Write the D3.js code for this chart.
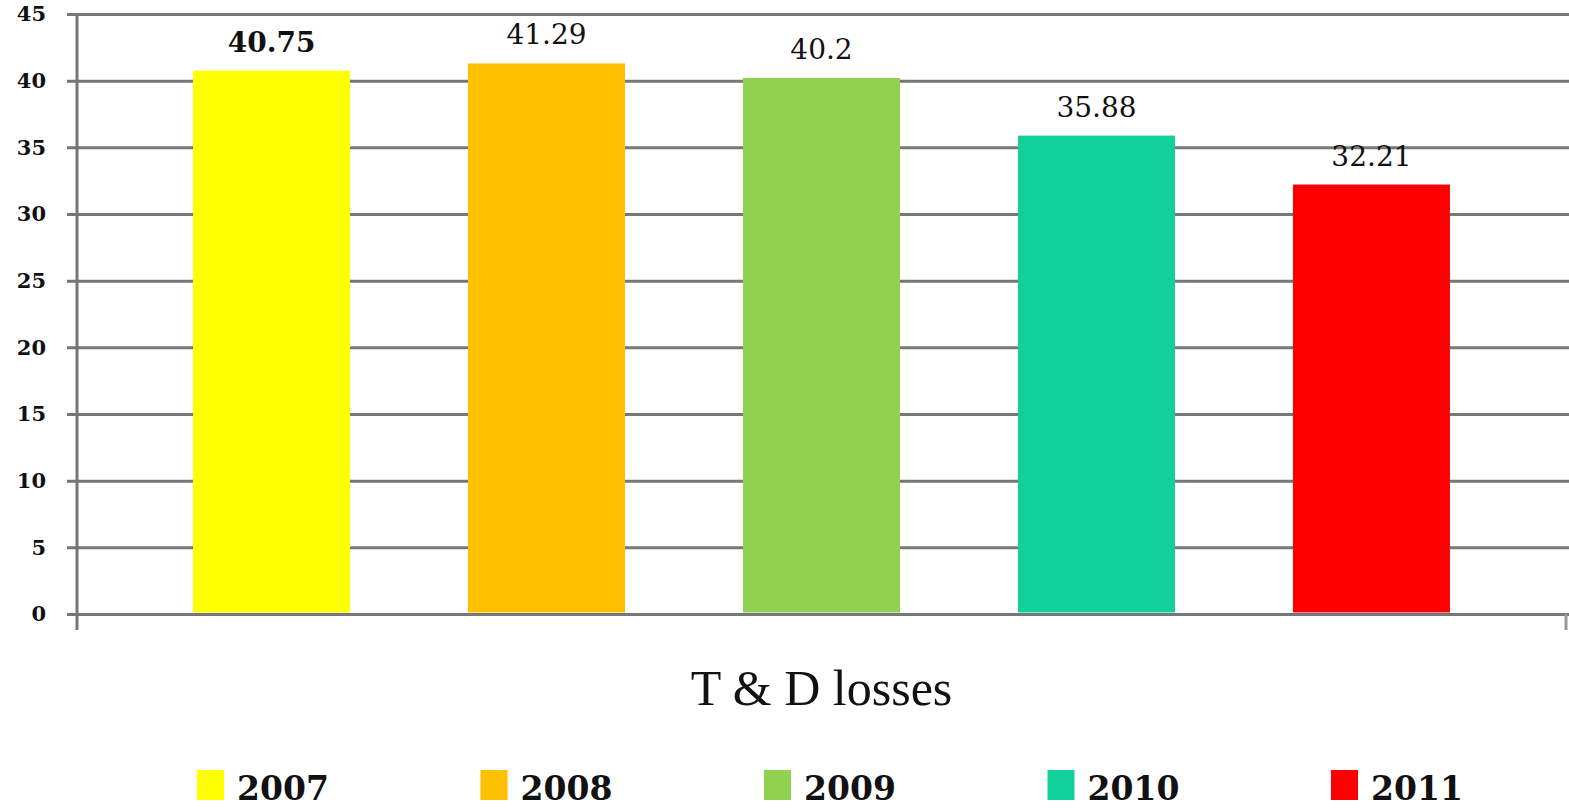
<!doctype html>
<html lang="en">

<head>
  <meta charset="utf-8">
  <title>T & D losses</title>
  <style>
    * { margin: 0; padding: 0; box-sizing: border-box; }
    body { background: #fff; }
    #container { width: 1569px; height: 810px; }
    text { font-family: "DejaVu Serif", "Liberation Serif", serif; fill: #111; }
  </style>
</head>

<body>
  <div id="container"></div>
  <script src="https://cdn.jsdelivr.net/npm/d3@7"></script>
  <script>
    const years = ['2007', '2008', '2009', '2010', '2011'];
    const losses = [40.75, 41.29, 40.2, 35.88, 32.21];
    const colors = ['#ffff00', '#ffc000', '#92d050', '#12d09a', '#ff0000'];
    const yTicks = [0, 5, 10, 15, 20, 25, 30, 35, 40, 45];
    const category = 'T & D losses';

    const data = years.map((y, i) => ({ year: y, value: losses[i], color: colors[i] }));

    const svgDim = { w: 1569, h: 810 };
    const plot = { left: 77, right: 1566, top: 14, bottom: 614 };

    const svg = d3.select('#container').append('svg')
      .attr('width', svgDim.w)
      .attr('height', svgDim.h);

    const scaleX = d3.scaleBand()
      .domain(years)
      .range([plot.left, plot.right])
      .paddingInner(0.429)
      .paddingOuter(0.422);

    const scaleY = d3.scaleLinear()
      .domain([0, 45])
      .range([plot.bottom, plot.top]);

    // gridlines + y ticks
    const yAxis = svg.append('g')
      .attr('transform', `translate(${plot.left},0)`)
      .call(d3.axisLeft(scaleY).tickValues(yTicks).tickSize(-(svgDim.w - plot.left)).tickSizeOuter(0).tickPadding(31));
    yAxis.select('.domain').remove();
    yAxis.selectAll('.tick line')
      .attr('x1', -10)
      .attr('stroke', '#777')
      .attr('stroke-width', 3);
    yAxis.selectAll('.tick text')
      .style('font-family', '"DejaVu Serif", serif')
      .style('font-size', '21px')
      .style('font-weight', 'bold')
      .attr('fill', '#111');

    // y axis line and category ticks
    svg.append('line')
      .attr('x1', plot.left).attr('x2', plot.left)
      .attr('y1', plot.top - 1).attr('y2', plot.bottom + 16)
      .attr('stroke', '#777').attr('stroke-width', 3);
    svg.append('line')
      .attr('x1', plot.right).attr('x2', plot.right)
      .attr('y1', plot.bottom).attr('y2', plot.bottom + 16)
      .attr('stroke', '#999').attr('stroke-width', 3);

    // bars
    svg.selectAll('rect.bar')
      .data(data)
      .enter()
      .append('rect')
      .attr('class', 'bar')
      .attr('x', d => scaleX(d.year))
      .attr('y', d => scaleY(d.value))
      .attr('width', scaleX.bandwidth())
      .attr('height', d => scaleY(0) - scaleY(d.value) - 1.5)
      .attr('fill', d => d.color);

    // value labels
    svg.selectAll('text.val')
      .data(data)
      .enter()
      .append('text')
      .attr('class', 'val')
      .attr('x', d => scaleX(d.year) + scaleX.bandwidth() / 2)
      .attr('y', d => scaleY(d.value) - 19)
      .attr('text-anchor', 'middle')
      .style('font-size', '28px')
      .style('font-weight', (d, i) => i === 0 ? 'bold' : 'normal')
      .text(d => d.value);

    // category label
    svg.append('text')
      .attr('x', (plot.left + plot.right) / 2)
      .attr('y', 705)
      .attr('text-anchor', 'middle')
      .style('font-family', '"Liberation Serif", serif')
      .style('font-size', '50px')
      .text(category);

    // legend
    const legX = d3.scalePoint().domain(years).range([197, 1331]);
    const leg = svg.selectAll('g.leg')
      .data(data)
      .enter()
      .append('g')
      .attr('class', 'leg')
      .attr('transform', d => `translate(${legX(d.year)},770)`);
    leg.append('rect')
      .attr('width', 27).attr('height', 30)
      .attr('fill', d => d.color);
    leg.append('text')
      .attr('x', 40).attr('y', 30)
      .style('font-size', '33px')
      .style('font-weight', 'bold')
      .text(d => d.year);
  </script>
</body>

</html>
